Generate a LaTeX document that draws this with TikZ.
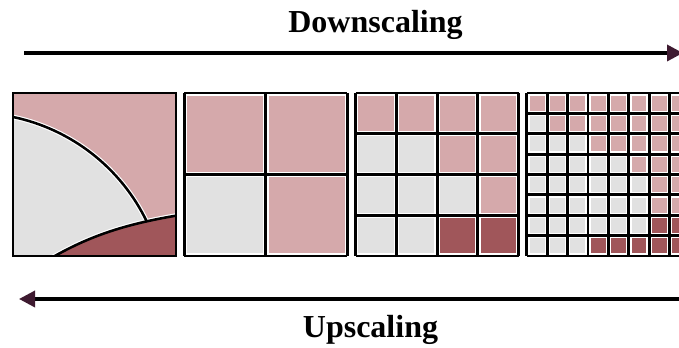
\documentclass[tikz,border=0pt]{standalone}
\usepackage{fontspec}
\setmainfont{Liberation Serif}
\usetikzlibrary{arrows.meta}

\definecolor{cP}{RGB}{213,169,171}
\definecolor{cG}{RGB}{225,225,225}
\definecolor{cD}{RGB}{160,86,90}
\definecolor{headcol}{RGB}{62,26,48}

\tikzset{
  cellbox/.style={draw=white, line width=0.8pt},
  gridline/.style={black, line width=2.2pt},
  curveline/.style={black, line width=1.9pt},
  curvehalo/.style={white, line width=3.6pt},
  scalearrow/.style={black, line width=2.6pt,
    -{Triangle[length=12pt, width=12pt, color=headcol]}},
  caption/.style={font=\bfseries\fontsize{24}{28}\selectfont, inner sep=0pt, anchor=base},
}

% one square panel: left edge, cells per side, rows of colours
\newcommand{\gridpanel}[3]{%
  \pgfmathsetmacro{\cs}{163/#2}
  \foreach \row [count=\r] in {#3} {
    \foreach \col [count=\k] in \row {
      \filldraw[cellbox, fill=c\col] ({#1+(\k-1)*\cs+2.2},{93+(\r-1)*\cs+2.2})
        rectangle ++({\cs-4.4},{\cs-4.4});
    }
  }
  \foreach \i in {0,...,#2} {
    \draw[gridline] ({#1+\i*\cs},93) -- ++(0,163);
    \draw[gridline] (#1,{93+\i*\cs}) -- ++(163,0);
  }
}

\begin{document}
\begin{tikzpicture}[x=0.75pt, y=-0.75pt]
  \clip (0,0) rectangle (679,348);
  \fill[white] (0,0) rectangle (679,348);

  % captions and arrows
  \node[caption] (down) at (375.5,33) {Downscaling};
  \node[caption] (up) at (370.5,338) {Upscaling};
  \coordinate (downL) at (24,53);
  \coordinate (downR) at (683,53);
  \coordinate (upR) at (690,299);
  \coordinate (upL) at (19,299);
  \draw[scalearrow] (downL) -- (downR);
  \draw[scalearrow] (upR) -- (upL);

  % panel 1: the original field
  \begin{scope}
    \clip (13,93) rectangle (176,256);
    \fill[cP] (13,93) rectangle (176,256);
    \fill[cG] (13,117) .. controls (71.5,129.2) and (121.2,168.1) .. (147,222)
      -- (160,262) -- (8,262) -- (8,117) -- cycle;
    \draw[curvehalo] (13,117) .. controls (71.5,129.2) and (121.2,168.1) .. (147,222);
    \draw[curvehalo] (53,257) .. controls (90,236) and (125,224) .. (180,215);
    \fill[cD] (53,257) .. controls (90,236) and (125,224) .. (180,215)
      -- (180,262) -- cycle;
    \draw[curveline] (13,117) .. controls (71.5,129.2) and (121.2,168.1) .. (147,222);
    \draw[curveline] (53,257) .. controls (90,236) and (125,224) .. (180,215);
  \end{scope}
  \draw[gridline] (13,93) rectangle (176,256);

  % panel 2
  \gridpanel{184.3}{2}{{P,P},{G,P}}

  % panel 3
  \gridpanel{355.6}{4}{{P,P,P,P},{G,G,P,P},{G,G,G,P},{G,G,D,D}}

  % panel 4
  \gridpanel{526.9}{8}{{P,P,P,P,P,P,P,P},{G,P,P,P,P,P,P,P},{G,G,G,P,P,P,P,P},
    {G,G,G,G,G,P,P,P},{G,G,G,G,G,G,P,P},{G,G,G,G,G,G,P,P},
    {G,G,G,G,G,G,D,D},{G,G,G,D,D,D,D,D}}
\end{tikzpicture}
\end{document}
